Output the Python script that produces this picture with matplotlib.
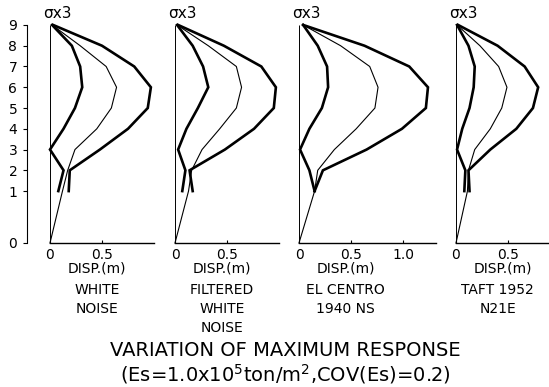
#!/usr/bin/env python
# -*- coding: utf-8 -*-
"""Variation of maximum response: storey displacement profiles, mean and mean +/- 3 sigma"""

import matplotlib
matplotlib.use("Agg")
import matplotlib.pyplot as plt

plt.rcParams["font.family"] = ["DejaVu Sans"]

# floors from top to bottom (thick curves stop at floor 1, mean curve reaches ground)
floors = [9, 8, 7, 6, 5, 4, 3, 2, 1]
mean_floors = [9, 8, 7, 6, 5, 4, 3, 2, 1, 0]
floor_labels = ["0", "1", "2", "3", "4", "5", "6", "7", "8", "9"]

# displacements (m)
white_lower = [0.02, 0.21, 0.29, 0.31, 0.24, 0.13, 0.00, 0.13, 0.08]
white_mean = [0.02, 0.29, 0.54, 0.64, 0.59, 0.45, 0.24, 0.17, 0.12, 0.0]
white_upper = [0.03, 0.50, 0.81, 0.97, 0.94, 0.75, 0.48, 0.19, 0.18]

filt_lower = [0.02, 0.17, 0.27, 0.32, 0.22, 0.11, 0.03, 0.10, 0.07]
filt_mean = [0.02, 0.32, 0.59, 0.64, 0.59, 0.43, 0.26, 0.16, 0.13, 0.0]
filt_upper = [0.03, 0.47, 0.83, 0.97, 0.95, 0.76, 0.48, 0.14, 0.17]

elc_lower = [0.04, 0.18, 0.27, 0.28, 0.22, 0.10, 0.01, 0.10, 0.15]
elc_mean = [0.04, 0.40, 0.68, 0.76, 0.73, 0.55, 0.34, 0.18, 0.15, 0.0]
elc_upper = [0.04, 0.63, 1.06, 1.24, 1.22, 0.99, 0.65, 0.23, 0.15]

taft_lower = [0.01, 0.12, 0.18, 0.17, 0.13, 0.06, 0.01, 0.09, 0.08]
taft_mean = [0.01, 0.23, 0.41, 0.49, 0.44, 0.33, 0.18, 0.12, 0.11, 0.0]
taft_upper = [0.02, 0.40, 0.66, 0.79, 0.74, 0.58, 0.33, 0.12, 0.13]

record_names = [["WHITE", "NOISE"],
                ["FILTERED", "WHITE", "NOISE"],
                ["EL CENTRO", "1940 NS"],
                ["TAFT 1952", "N21E"]]
x_ticks = [[0, 0.5], [0, 0.5], [0, 0.5, 1.0], [0, 0.5]]
x_ticklabels = [["0", "0.5"], ["0", "0.5"], ["0", "0.5", "1.0"], ["0", "0.5"]]
x_max = [1.0, 1.0, 1.32, 0.9]
lowers = [white_lower, filt_lower, elc_lower, taft_lower]
means = [white_mean, filt_mean, elc_mean, taft_mean]
uppers = [white_upper, filt_upper, elc_upper, taft_upper]

GROUND = -1.5  # first storey drawn taller than the others


def ypos(fl):
    return [f if f >= 1 else GROUND for f in fl]


W, H = 549, 387
fig = plt.figure(figsize=(W / 100, H / 100), dpi=100)

px_per_m = 104.0
y_bottom_px, y_top_px = 243.0, 12.5
lefts_px = [50, 175, 299, 456]

for i in range(4):
    left = lefts_px[i] / W
    width = x_max[i] * px_per_m / W
    bottom = (H - y_bottom_px) / H
    height = (y_bottom_px - y_top_px) / H
    ax = fig.add_axes([left, bottom, width, height])
    ax.set_xlim(0, x_max[i])
    ax.set_ylim(GROUND, 9.6)
    ax.patch.set_visible(False)

    for s in ["top", "right"]:
        ax.spines[s].set_visible(False)
    ax.spines["bottom"].set_linewidth(1.0)

    ax.vlines(0, GROUND, 9, color="black", lw=0.7, clip_on=False)
    ax.plot(lowers[i], ypos(floors), color="black", lw=1.9, clip_on=False,
            solid_joinstyle="miter")
    ax.plot(means[i], ypos(mean_floors), color="black", lw=0.8, clip_on=False)
    ax.plot(uppers[i], ypos(floors), color="black", lw=1.9, clip_on=False,
            solid_joinstyle="miter")

    ax.set_xticks(x_ticks[i])
    ax.set_xticklabels(x_ticklabels[i])
    ax.tick_params(axis="x", direction="in", length=2.5, width=0.8, pad=3.5,
                   labelsize=10)

    if i == 0:
        ax.spines["left"].set_position(("outward", 16.5))
        ax.spines["left"].set_bounds(GROUND, 9)
        ax.spines["left"].set_linewidth(0.8)
        ax.set_yticks(ypos(list(range(10))))
        ax.set_yticklabels(floor_labels)
        ax.tick_params(axis="y", direction="out", length=3, width=0.8, pad=4,
                       labelsize=10)
    else:
        ax.spines["left"].set_visible(False)
        ax.set_yticks([])

    ax.text(-0.07, 9.55, "σx3", ha="left", va="center", fontsize=11)

    xform = ax.get_xaxis_transform()
    ax.annotate("DISP.(m)", xy=(0.45, 0), xycoords=xform, xytext=(0, -18.4),
                textcoords="offset points", ha="center", va="center",
                fontsize=10)
    for k, line in enumerate(record_names[i]):
        ax.annotate(line, xy=(0.45 if i < 3 else 0.40, 0), xycoords=xform,
                    xytext=(0, -34.0 - 13.7 * k), textcoords="offset points",
                    ha="center", va="center", fontsize=10)

fig.text(285 / W, 1 - 350 / H, "VARIATION OF MAXIMUM RESPONSE",
         ha="center", va="center", fontsize=14)
fig.text(285 / W, 1 - 374 / H, "(Es=1.0x10$^5$ton/m$^2$,COV(Es)=0.2)",
         ha="center", va="center", fontsize=14)

fig.savefig("out.png", dpi=100)
